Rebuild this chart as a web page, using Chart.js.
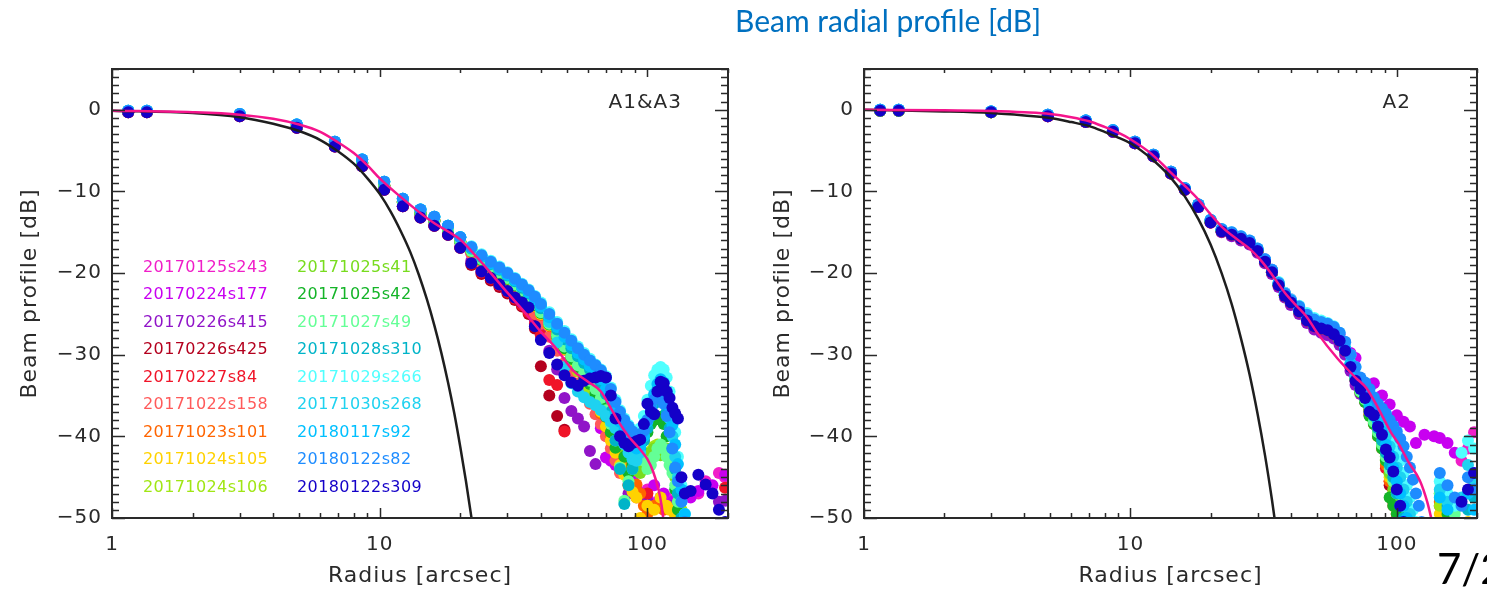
<!DOCTYPE html>
<html>
<head>
<meta charset="utf-8">
<title>Beam radial profile</title>
<script src="https://cdn.jsdelivr.net/npm/chart.js@4.4.0/dist/chart.umd.min.js"></script>
<style>
    body {
        margin: 0;
        width: 1487px;
        height: 590px;
        overflow: hidden;
        position: relative;
        background: #fff;
    }
    canvas { position: absolute; top: 0; }
    #cA { left: 0; }
    #cB { left: 750px; }
    #title {
        position: absolute;
        left: 735px;
        top: 2px;
        font-family: Lato, 'Open Sans', sans-serif;
        font-size: 30px;
        color: #0070c0;
        white-space: nowrap;
    }
    #page {
        position: absolute;
        left: 1437px;
        top: 547px;
        font-family: Lato, 'Open Sans', sans-serif;
        font-size: 42px;
        line-height: 1;
        color: #000;
        white-space: nowrap;
    }
</style>
</head>
<body>
<canvas id="cA" width="745" height="590"></canvas>
<canvas id="cB" width="737" height="590"></canvas>
<div id="title">Beam radial profile [dB]</div>
<div id="page">7/2</div>

<script>
// sampling radii [arcsec], shared by every run
const radii = [1.15, 1.35, 3.0, 4.9, 6.8, 8.6, 10.4, 12.2, 14.2, 16, 18, 20,
    22, 24, 26, 28, 30, 32, 34, 36, 38, 40,
    43, 46, 49, 52, 55, 58, 61, 64, 67, 70,
    73, 76, 79, 82, 85, 88, 91, 94, 97, 100,
    103, 106, 109, 112, 115, 118, 121, 124, 127, 130,
    134, 138, 145, 155, 165, 175, 185, 195];

const runLabels = ['20170125s243', '20170224s177', '20170226s415', '20170226s425', '20170227s84',
    '20171022s158', '20171023s101', '20171024s105', '20171024s106', '20171025s41', '20171025s42',
    '20171027s49', '20171028s310', '20171029s266', '20171030s268', '20180117s92', '20180122s82',
    '20180122s309'];

const runColors = ['#f01ec8', '#c800f0', '#9014c8', '#b4001e', '#f01428', '#ff5a5a', '#ff6400',
    '#ffd200', '#a0e614', '#78dc1e', '#14b428', '#64ff96', '#00b4c8', '#50ffff', '#1ed2f0',
    '#00c0ff', '#1e8cff', '#1400c8'];

// beam profile [dB] per run, one row per run, one value per radius (null = below -50)
const valuesA1A3 = [
    [-0.2,-0.2,-0.6,-2.0,-4.2,-6.5,-9.3,-11.3,-12.7,-13.6,-14.7,-16.2,
     -17.5,-18.5,-19.4,-20.1,-20.8,-21.5,-22.3,-23.1,-24.0,-25.0,
     -26.3,-27.7,-29.0,-30.2,-31.3,-32.4,-33.5,-34.8,-36.2,-37.8,
     -39.5,-41.5,-43.0,-44.5,null,-46.0,null,-47.5,null,-46.5,
     null,null,-48.0,null,null,-47.5,null,null,-49.0,null,
     null,null,null,-47.0,-45.5,null,-44.5,-45.0],
    [-0.2,-0.2,-0.6,-2.0,-4.2,-6.5,-9.3,-11.3,-12.7,-13.6,-14.7,-16.2,
     -17.6,-18.6,-19.5,-20.2,-20.9,-21.6,-22.4,-23.2,-24.1,-25.1,
     -26.4,-27.8,-29.1,-30.4,-31.6,-32.8,-34.0,-36.0,-39.0,-42.6,
     -43.0,-43.5,-44.0,-44.2,-45.9,-45.0,-46.5,-47.0,null,-47.5,
     null,-46.0,null,null,-47.0,null,null,-48.0,null,null,
     null,null,-47.5,-46.7,null,-46.0,null,-44.7],
    [-0.3,-0.3,-0.8,-2.2,-4.5,-6.9,-9.8,-11.8,-13.2,-14.2,-15.3,-16.9,
     -18.5,-19.6,-20.5,-21.3,-22.1,-22.9,-23.7,-24.6,-25.8,-27.5,
     -29.5,-31.8,-35.3,-36.9,-37.8,-38.8,-41.8,-43.4,null,null,
     null,null,null,null,-47.0,null,null,null,null,-48.0,
     null,null,null,-47.5,null,null,null,-48.5,null,null,
     null,null,null,null,null,null,-48.0,-47.9],
    [-0.3,-0.3,-0.8,-2.2,-4.5,-6.9,-9.8,-11.8,-13.2,-14.2,-15.3,-16.9,
     -19.0,-20.1,-20.9,-21.7,-22.5,-23.3,-24.1,-25.0,-26.8,-31.4,
     -35.0,-37.5,-39.2,null,null,null,null,null,null,null,
     null,null,null,null,null,null,null,null,null,null,
     null,null,null,null,null,null,null,null,null,null,
     null,null,null,null,null,null,null,null],
    [-0.3,-0.3,-0.8,-2.2,-4.5,-6.9,-9.8,-11.8,-13.2,-14.2,-15.3,-16.9,
     -18.8,-19.9,-20.7,-21.5,-22.3,-23.1,-23.9,-24.8,-26.2,-27.6,
     -33.1,-33.7,-39.4,null,null,null,null,null,null,null,
     null,null,null,null,null,null,null,null,null,-47.0,
     null,null,null,null,null,null,null,null,-49.5,null,
     null,null,null,null,null,null,null,-46.3],
    [-0.2,-0.2,-0.6,-2.0,-4.2,-6.5,-9.3,-11.3,-12.7,-13.6,-14.7,-16.2,
     -17.6,-18.8,-19.8,-20.6,-21.4,-22.2,-23.0,-23.9,-25.0,-26.2,
     -27.8,-29.5,-31.0,-32.3,-33.5,-34.8,-36.0,-37.3,-38.5,-40.0,
     -41.5,-43.0,-44.5,null,-46.0,null,-47.5,null,null,-48.5,
     null,null,null,null,null,null,null,null,null,null,
     null,null,null,null,null,null,null,null],
    [-0.2,-0.2,-0.6,-2.0,-4.2,-6.5,-9.3,-11.3,-12.7,-13.6,-14.7,-16.2,
     -17.4,-18.4,-19.3,-20.1,-20.8,-21.6,-22.4,-23.2,-24.1,-25.1,
     -26.5,-28.0,-29.4,-30.8,-32.0,-33.2,-34.5,-35.8,-37.2,-38.8,
     -40.0,-41.2,-42.0,-42.8,-43.4,-43.9,-45.9,-47.0,-48.5,-49.5,
     null,-48.5,null,null,-49.0,null,null,null,-49.5,-48.5,
     -49.5,null,null,null,null,null,null,null],
    [-0.2,-0.2,-0.6,-2.0,-4.2,-6.5,-9.3,-11.3,-12.7,-13.6,-14.7,-16.2,
     -17.3,-18.3,-19.2,-20.0,-20.7,-21.5,-22.3,-23.1,-24.0,-25.0,
     -26.4,-27.9,-29.3,-30.7,-32.0,-33.2,-34.4,-35.6,-37.0,-38.8,
     -40.5,-42.0,-43.5,-44.7,-46.0,-46.8,-47.5,-50.0,null,-48.5,
     null,-49.0,null,-47.5,null,-48.5,-49.0,null,-50.0,null,
     null,null,null,null,null,null,null,null],
    [-0.2,-0.2,-0.6,-2.0,-4.2,-6.5,-9.3,-11.3,-12.7,-13.6,-14.7,-16.2,
     -17.2,-18.2,-19.1,-19.9,-20.6,-21.3,-22.1,-22.9,-23.7,-24.7,
     -26.1,-27.5,-29.0,-30.5,-32.0,-33.5,-34.5,-35.5,-36.5,-37.5,
     -38.5,-39.5,-40.4,-41.3,-42.0,-42.6,-43.0,-43.2,-43.0,-42.5,
     -41.8,-41.2,-41.0,-41.3,-41.8,-42.3,-42.0,-42.5,-44.0,-46.5,
     -49.0,null,null,null,null,null,null,null],
    [-0.2,-0.2,-0.6,-2.0,-4.2,-6.5,-9.3,-11.3,-12.7,-13.6,-14.7,-16.2,
     -17.2,-18.2,-19.1,-19.8,-20.5,-21.2,-22.0,-22.8,-23.6,-24.6,
     -26.0,-27.4,-28.8,-30.0,-31.2,-32.3,-33.4,-34.4,-35.4,-36.6,
     -37.8,-39.0,-40.2,-41.4,-42.5,-43.5,-44.2,-44.5,-43.5,-42.5,
     -42.0,-41.5,-41.8,-42.3,-42.0,-41.5,-42.5,-43.5,-45.0,-47.0,
     -49.5,null,null,null,null,null,null,null],
    [-0.2,-0.2,-0.6,-2.0,-4.2,-6.5,-9.3,-11.3,-12.7,-13.6,-14.7,-16.2,
     -17.3,-18.4,-19.3,-20.0,-20.7,-21.5,-22.2,-23.0,-23.9,-24.9,
     -26.3,-27.8,-29.2,-30.5,-31.6,-32.6,-33.6,-34.8,-36.0,-37.6,
     -39.5,-41.4,-40.5,-42.5,-44.5,-43.5,-42.5,-41.5,-40.5,-39.5,
     -38.5,-38.0,-37.6,-37.6,-38.5,-40.0,-42.0,-44.0,-46.5,-49.0,
     null,null,null,null,null,null,null,null],
    [-0.2,-0.2,-0.6,-2.0,-4.2,-6.5,-9.3,-11.3,-12.7,-13.6,-14.7,-16.2,
     -17.3,-18.3,-19.2,-19.9,-20.6,-21.4,-22.1,-22.9,-23.8,-24.8,
     -26.2,-27.6,-29.0,-30.2,-31.3,-32.3,-33.2,-34.2,-35.3,-36.8,
     -38.5,-40.5,-43.8,-47.9,-45.5,-44.0,-43.0,-42.5,-43.0,-44.0,
     -43.5,-42.5,-41.5,-41.0,-41.5,-42.5,-43.5,-44.5,-46.0,-48.0,
     -50.5,null,null,null,null,null,null,null],
    [-0.1,-0.1,-0.5,-1.8,-3.9,-6.1,-8.8,-10.9,-12.2,-13.1,-14.2,-15.6,
     -17.0,-18.0,-18.9,-19.6,-20.3,-21.0,-21.8,-22.5,-23.4,-24.3,
     -25.6,-26.9,-28.1,-29.2,-30.2,-31.0,-31.8,-32.6,-33.4,-34.8,
     -37.0,-40.5,-44.0,-48.3,-46.0,-44.0,-42.5,-41.5,-40.5,-39.0,
     -37.5,-36.0,-35.0,-34.8,-35.5,-37.0,-39.0,-41.5,-44.0,-47.0,
     -50.0,null,null,null,null,null,null,null],
    [-0.1,-0.1,-0.5,-1.8,-3.9,-6.1,-8.8,-10.9,-12.2,-13.1,-14.2,-15.6,
     -16.7,-17.7,-18.5,-19.2,-19.9,-20.6,-21.3,-22.0,-22.8,-23.6,
     -24.8,-26.0,-27.1,-28.1,-29.0,-29.8,-30.5,-31.2,-31.8,-32.6,
     -34.0,-35.5,-36.8,-37.8,-38.6,-39.2,-39.5,-39.0,-37.5,-35.5,
     -33.8,-32.5,-31.8,-31.5,-31.8,-32.8,-34.5,-36.8,-39.5,-42.5,
     -46.0,-49.5,null,null,null,null,null,null],
    [-0.1,-0.1,-0.5,-1.8,-3.9,-6.1,-8.8,-10.9,-12.2,-13.1,-14.2,-15.6,
     -16.9,-17.9,-18.7,-19.4,-20.1,-20.8,-21.6,-22.3,-23.1,-24.0,
     -26.0,-28.5,-31.5,-33.5,-34.5,-35.2,-35.8,-36.2,-36.8,-37.5,
     -38.2,-39.0,-40.0,-41.0,-42.0,-42.8,-43.0,-42.0,-40.0,-38.0,
     -36.5,-35.0,-34.2,-34.0,-34.5,-35.8,-37.8,-40.0,-42.5,-45.0,
     -48.0,-51.0,null,null,null,null,null,null],
    [-0.1,-0.1,-0.5,-1.8,-3.9,-6.1,-8.8,-10.9,-12.2,-13.1,-14.2,-15.6,
     -16.9,-17.9,-18.8,-19.5,-20.2,-20.9,-21.6,-22.4,-23.2,-24.1,
     -25.4,-26.6,-27.8,-28.8,-29.8,-30.6,-31.4,-32.2,-33.0,-34.2,
     -35.5,-37.0,-38.2,-39.3,-40.2,-41.0,-41.5,-41.2,-40.0,-38.2,
     -36.3,-34.8,-33.6,-33.0,-33.4,-34.6,-36.4,-38.6,-41.0,-43.4,
     -46.5,-49.5,null,null,null,null,null,null],
    [-0.1,-0.1,-0.5,-1.8,-3.9,-6.1,-8.8,-10.9,-12.2,-13.1,-14.2,-15.6,
     -16.8,-17.8,-18.6,-19.3,-20.0,-20.7,-21.4,-22.1,-22.9,-23.8,
     -25.0,-26.2,-27.3,-28.3,-29.2,-30.0,-30.7,-31.3,-31.9,-32.8,
     -34.2,-35.8,-37.0,-38.0,-38.8,-39.4,-39.8,-40.0,-39.3,-38.0,
     -36.5,-35.5,-35.0,-35.2,-36.0,-37.5,-39.5,-41.5,-43.8,-45.5,
     -48.0,-50.5,null,null,null,null,null,null],
    [-0.3,-0.3,-0.8,-2.2,-4.5,-6.9,-9.8,-11.8,-13.2,-14.2,-15.3,-16.9,
     -18.8,-19.8,-20.6,-21.4,-22.2,-23.0,-23.6,-24.2,-26.5,-28.2,
     -29.8,-31.2,-32.5,-33.4,-33.8,-33.2,-32.9,-32.8,-32.6,-32.8,
     -35.0,-37.8,-40.0,-40.8,-41.2,-40.8,-40.6,-40.4,-38.5,-36.0,
     -37.0,-37.3,-34.5,-33.3,-33.5,-34.5,-35.3,-36.5,-37.2,-37.8,
     -45.0,-47.0,-46.7,-44.7,-45.9,-47.0,-49.0,-50.5]
];

const valuesA2 = [
    [-0.1,-0.1,-0.3,-0.8,-1.5,-2.7,-4.1,-5.7,-7.8,-9.8,-11.9,-13.8,
     -14.9,-15.3,-15.8,-16.3,-17.3,-18.6,-19.9,-21.5,-22.8,-23.6,
     -24.7,-25.8,-26.5,-26.8,-27.0,-27.5,-28.3,-29.6,-31.5,-33.2,
     -34.3,-35.4,-36.8,-37.6,-38.8,-40.0,-41.5,-43.0,-44.5,-46.0,
     -47.5,-49.0,null,null,null,null,null,null,null,null,
     null,null,null,null,null,-43.0,-41.5,-39.5],
    [0.0,0.0,-0.2,-0.6,-1.3,-2.5,-3.9,-5.5,-7.6,-9.6,-11.6,-13.5,
     -14.7,-15.1,-15.6,-16.1,-17.1,-18.3,-19.6,-21.2,-22.4,-23.2,
     -24.2,-25.1,-25.7,-26.0,-26.3,-26.8,-27.5,-28.5,-29.8,-30.4,
     null,null,null,-33.5,null,-35.0,null,-36.1,null,-37.4,
     null,-38.2,null,-38.8,null,-40.8,null,null,-39.8,null,
     null,-40.0,-40.2,-40.8,-42.0,null,null,null],
    [-0.1,-0.1,-0.3,-0.8,-1.5,-2.7,-4.1,-5.7,-7.8,-9.8,-11.9,-13.8,
     -15.0,-15.5,-16.0,-16.5,-17.5,-18.8,-20.1,-21.7,-23.0,-23.9,
     -25.0,-26.1,-26.9,-27.3,-27.6,-28.0,-28.8,-30.0,-32.0,-33.7,
     -34.8,-35.8,-37.4,-38.0,-39.4,-40.4,-42.0,-43.4,-45.0,-46.8,
     -48.5,null,null,null,null,null,null,null,null,null,
     null,null,null,null,null,null,null,null],
    [-0.1,-0.1,-0.3,-0.8,-1.5,-2.7,-4.1,-5.7,-7.8,-9.8,-11.9,-13.8,
     -14.9,-15.3,-15.8,-16.3,-17.3,-18.6,-19.9,-21.5,-22.8,-23.6,
     -24.7,-25.8,-26.5,-26.8,-27.0,-27.5,-28.3,-29.5,-31.4,-33.1,
     -34.2,-35.3,-36.8,-37.5,-38.8,-40.0,-42.0,-46.0,-48.0,-49.5,
     null,null,null,null,null,null,null,null,null,null,
     null,null,null,null,null,null,null,null],
    [-0.1,-0.1,-0.3,-0.8,-1.5,-2.7,-4.1,-5.7,-7.8,-9.8,-11.9,-13.8,
     -14.9,-15.3,-15.8,-16.3,-17.3,-18.6,-19.9,-21.5,-22.8,-23.6,
     -24.7,-25.8,-26.5,-26.8,-27.0,-27.5,-28.3,-29.5,-31.4,-33.1,
     -34.1,-35.2,-36.7,-37.4,-38.7,-40.0,-43.9,-45.5,-47.5,-49.0,
     null,-50.0,null,null,null,null,null,null,null,null,
     null,null,-48.5,null,null,null,null,null],
    [-0.1,-0.1,-0.3,-0.8,-1.5,-2.7,-4.1,-5.7,-7.8,-9.8,-11.9,-13.8,
     -14.9,-15.3,-15.8,-16.3,-17.3,-18.6,-19.9,-21.5,-22.8,-23.6,
     -24.7,-25.8,-26.5,-26.8,-27.0,-27.5,-28.3,-29.5,-31.4,-33.1,
     -34.3,-35.4,-37.0,-37.8,-39.2,-40.8,-42.5,-44.5,-48.5,-49.5,
     null,null,null,null,null,null,null,null,null,null,
     null,null,null,null,null,null,null,null],
    [-0.1,-0.1,-0.3,-0.7,-1.4,-2.6,-4.0,-5.6,-7.7,-9.7,-11.8,-13.7,
     -14.8,-15.2,-15.7,-16.2,-17.2,-18.5,-19.8,-21.4,-22.7,-23.5,
     -24.6,-25.7,-26.4,-26.7,-26.9,-27.4,-28.2,-29.4,-31.3,-33.0,
     -34.6,-35.7,-37.3,-38.5,-40.0,-41.5,-43.5,-45.5,-47.5,-49.5,
     null,null,null,null,null,null,null,null,null,null,
     null,null,-48.0,-47.5,null,null,null,null],
    [-0.1,-0.1,-0.3,-0.7,-1.4,-2.6,-4.0,-5.6,-7.7,-9.7,-11.8,-13.7,
     -14.8,-15.2,-15.7,-16.2,-17.2,-18.5,-19.8,-21.4,-22.7,-23.5,
     -24.6,-25.7,-26.4,-26.7,-26.9,-27.4,-28.2,-29.4,-31.3,-33.0,
     -34.5,-35.6,-37.2,-38.3,-39.8,-41.2,-43.0,-45.0,-47.0,-49.0,
     null,null,null,null,null,null,null,null,null,null,
     null,null,-49.5,-50.0,null,null,-50.5,null],
    [-0.1,-0.1,-0.3,-0.7,-1.4,-2.6,-4.0,-5.6,-7.7,-9.7,-11.8,-13.7,
     -14.8,-15.2,-15.7,-16.2,-17.2,-18.5,-19.8,-21.4,-22.7,-23.5,
     -24.6,-25.7,-26.4,-26.7,-26.9,-27.4,-28.2,-29.4,-31.3,-33.0,
     -34.4,-35.4,-36.9,-38.0,-39.6,-41.0,-42.8,-44.6,-47.0,-46.0,
     -48.0,-49.5,null,null,null,null,null,null,null,null,
     null,null,-48.5,-49.0,null,null,null,null],
    [-0.1,-0.1,-0.3,-0.7,-1.4,-2.6,-4.0,-5.6,-7.7,-9.7,-11.8,-13.7,
     -14.8,-15.2,-15.7,-16.2,-17.2,-18.5,-19.8,-21.4,-22.7,-23.5,
     -24.6,-25.7,-26.4,-26.7,-26.9,-27.4,-28.2,-29.4,-31.3,-33.0,
     -34.4,-35.4,-36.8,-38.0,-39.5,-41.0,-42.5,-44.5,-46.5,-48.0,
     -49.0,null,null,null,null,null,null,null,null,null,
     null,null,-47.0,null,-49.0,null,null,null],
    [-0.1,-0.1,-0.3,-0.7,-1.4,-2.6,-4.0,-5.6,-7.7,-9.7,-11.8,-13.7,
     -14.8,-15.2,-15.7,-16.2,-17.2,-18.5,-19.8,-21.4,-22.7,-23.5,
     -24.6,-25.7,-26.4,-26.7,-26.9,-27.4,-28.2,-29.4,-31.3,-33.0,
     -34.6,-35.8,-37.5,-38.5,-40.0,-41.5,-43.0,-47.5,-48.5,-49.5,
     null,null,null,null,null,null,null,null,null,null,
     null,null,null,-49.5,null,null,null,null],
    [-0.1,-0.1,-0.3,-0.7,-1.4,-2.6,-4.0,-5.6,-7.7,-9.7,-11.8,-13.7,
     -14.8,-15.2,-15.7,-16.2,-17.2,-18.5,-19.8,-21.4,-22.7,-23.5,
     -24.6,-25.7,-26.4,-26.7,-26.9,-27.4,-28.2,-29.4,-31.3,-33.0,
     -34.5,-35.5,-37.0,-38.2,-39.5,-41.0,-42.5,-44.0,-45.5,-47.0,
     -46.5,-48.0,-49.0,null,null,null,null,null,null,null,
     null,null,-47.0,null,-49.5,null,null,null],
    [0.0,0.0,-0.2,-0.6,-1.3,-2.5,-3.9,-5.5,-7.6,-9.6,-11.6,-13.5,
     -14.7,-15.1,-15.6,-16.1,-17.1,-18.4,-19.7,-21.3,-22.6,-23.4,
     -24.5,-25.6,-26.3,-26.6,-26.8,-27.3,-28.1,-29.3,-31.2,-32.8,
     -34.0,-35.0,-36.5,-37.5,-39.0,-40.5,-42.0,-43.5,-45.0,-47.0,
     -48.5,-50.0,null,null,null,null,null,null,null,null,
     null,null,null,-48.5,null,null,-49.0,-47.5],
    [0.0,0.0,-0.2,-0.6,-1.3,-2.5,-3.9,-5.5,-7.6,-9.6,-11.6,-13.5,
     -14.6,-15.0,-15.5,-16.0,-17.0,-18.3,-19.6,-21.1,-22.4,-23.2,
     -24.0,-24.9,-25.5,-25.8,-26.1,-26.5,-27.3,-28.5,-30.0,-31.5,
     -33.0,-33.8,-34.8,-35.8,-36.8,-37.8,-38.8,-39.8,-40.8,-41.8,
     -43.0,-44.5,-46.0,-47.5,-49.0,-50.5,null,null,null,null,
     null,null,-45.5,-47.0,-48.5,-42.0,-40.5,-41.5],
    [0.0,0.0,-0.2,-0.6,-1.3,-2.5,-3.9,-5.5,-7.6,-9.6,-11.6,-13.5,
     -14.7,-15.1,-15.6,-16.1,-17.1,-18.4,-19.7,-21.3,-22.6,-23.4,
     -24.4,-25.5,-26.2,-26.6,-26.8,-27.2,-28.0,-29.2,-31.0,-32.5,
     -33.6,-34.6,-35.8,-36.8,-37.8,-38.8,-40.0,-41.2,-42.5,-43.8,
     -45.0,-46.5,-48.0,-49.5,null,null,null,null,null,null,
     null,null,-46.5,-48.0,null,-47.5,-43.5,-45.5],
    [0.0,0.0,-0.2,-0.6,-1.3,-2.5,-3.9,-5.5,-7.6,-9.6,-11.6,-13.5,
     -14.7,-15.1,-15.6,-16.1,-17.1,-18.4,-19.7,-21.3,-22.6,-23.4,
     -24.5,-25.6,-26.3,-26.6,-26.8,-27.3,-28.1,-29.3,-31.2,-32.8,
     -33.8,-34.8,-36.2,-37.0,-38.3,-39.4,-41.0,-42.2,-43.8,-45.5,
     -47.0,-48.5,-50.0,null,null,null,null,null,null,null,
     null,null,-47.5,-49.0,null,null,-47.0,-49.0],
    [0.0,0.0,-0.2,-0.6,-1.3,-2.5,-3.9,-5.5,-7.6,-9.6,-11.6,-13.5,
     -14.6,-15.0,-15.5,-16.0,-17.0,-18.3,-19.6,-21.2,-22.5,-23.3,
     -24.1,-25.1,-25.7,-26.0,-26.2,-26.6,-27.3,-28.4,-30.0,-31.5,
     -32.8,-33.4,-34.2,-35.2,-36.0,-36.6,-37.2,-38.0,-38.7,-39.4,
     -40.3,-41.2,-42.5,-43.8,-45.3,-47.0,-48.5,-50.5,null,null,
     null,null,-44.5,-46.0,-47.5,-48.5,-45.0,-46.5],
    [-0.1,-0.1,-0.3,-0.8,-1.5,-2.7,-4.1,-5.7,-7.8,-9.8,-11.9,-13.8,
     -14.9,-15.3,-15.8,-16.3,-17.3,-18.6,-19.9,-21.5,-22.8,-23.6,
     -24.7,-25.8,-26.5,-26.8,-27.0,-27.5,-28.3,-29.5,-31.5,-33.2,
     -34.2,-35.3,-37.0,-37.4,-38.8,-39.8,-41.6,-42.6,-44.3,-46.5,
     -48.5,-50.5,null,null,null,null,null,null,null,null,
     null,null,null,null,null,-48.0,-46.5,-44.5]
];

// fitted profile (magenta) and main-lobe gaussian (black)
const fitA1A3R = [1,2,3,4,5,6,7,8,9,10,12,14,16,18,20,23,26,30,35,40,45,53,60,67,72,78,85,95,100,105,110,113,116];
const fitA1A3 = [-0.1,-0.3,-0.6,-1.1,-1.8,-2.7,-4.0,-5.3,-6.8,-8.4,-10.7,-12.5,-13.9,-14.9,-15.9,-18.0,-20.0,-22.4,-24.9,-27.2,-29.0,-32.0,-33.3,-34.5,-36.2,-38.2,-40.0,-41.8,-42.8,-44.3,-46.5,-48.5,-51.5];
const lobeA1A3R = [1,2,3,4,5,6,7,8,9,10,11,12,13,14,15,16,17,18,19,20,21,22,23];
const lobeA1A3 = [-0.1,-0.4,-0.9,-1.7,-2.6,-3.7,-5.1,-6.6,-8.4,-10.3,-12.5,-14.9,-17.4,-20.2,-23.2,-26.4,-29.8,-33.4,-37.2,-41.3,-45.5,-49.9,-54.5];

const fitA2R = [1,2,3,4,5,6,7,8,9,10,12,14,16,18,20,22,25,28,31,34,38,42,46,50,60,70,77,85,95,102,110,122,130,138];
const fitA2 = [0,-0.05,-0.15,-0.3,-0.5,-0.9,-1.4,-2.1,-2.8,-3.6,-5.4,-7.5,-9.3,-11.0,-12.8,-14.3,-15.8,-17.0,-18.5,-20.2,-22.4,-24.0,-25.4,-27.2,-30.5,-32.8,-34.1,-36.5,-39.5,-41.0,-43.0,-45.4,-48.0,-51.5];
const lobeA2R = [1,2,3,4,5,6,7,8,9,10,12,14,16,18,20,22,24,26,28,30,32,34,36];
const lobeA2 = [0,-0.2,-0.4,-0.7,-1.0,-1.5,-2.0,-2.7,-3.4,-4.1,-6.0,-8.1,-10.6,-13.4,-16.5,-20.0,-23.8,-28.0,-32.4,-37.2,-42.3,-47.8,-53.6];

// axis ticks
const xMajor = [1, 10, 100];
const xMinor = [2, 3, 4, 5, 6, 7, 8, 9, 20, 30, 40, 50, 60, 70, 80, 90, 200];
const yMajor = [-50, -40, -30, -20, -10, 0];

const FONT = 'DejaVu Sans';
const INK = '#2a2a2a';

// IDL style box with inward ticks on all four sides
const frameTicks = {
    id: 'frameTicks',
    beforeDraw(chart) {
        chart.ctx.letterSpacing = '1px';
    },
    afterDraw(chart) {
        const {ctx, chartArea: a, scales: {x, y}} = chart;
        ctx.save();
        ctx.strokeStyle = INK;
        ctx.lineWidth = 1.5;
        ctx.beginPath();
        const xt = (v, lb, lt) => {
            const p = Math.round(x.getPixelForValue(v)) + 0.5;
            ctx.moveTo(p, a.bottom); ctx.lineTo(p, a.bottom - lb);
            ctx.moveTo(p, a.top); ctx.lineTo(p, a.top + lt);
        };
        const yt = (v, l) => {
            const p = Math.round(y.getPixelForValue(v)) + 0.5;
            ctx.moveTo(a.left, p); ctx.lineTo(a.left + l, p);
            ctx.moveTo(a.right, p); ctx.lineTo(a.right - l, p);
        };
        xMajor.forEach(v => xt(v, 10, 8));
        xMinor.forEach(v => xt(v, 5, 4));
        yMajor.forEach(v => yt(v, 13));
        for (let v = -49; v <= 5; v++) {
            if (v % 10 !== 0) yt(v, 7);
        }
        ctx.stroke();
        ctx.lineWidth = 2;
        ctx.strokeRect(a.left, a.top, a.right - a.left, a.bottom - a.top);
        ctx.restore();
    }
};

// run names written in two coloured columns inside the left panel
const runList = {
    id: 'runList',
    afterDatasetsDraw(chart, args, o) {
        if (!o.show) return;
        const ctx = chart.ctx;
        ctx.save();
        ctx.font = '16px "' + FONT + '"';
        ctx.textBaseline = 'middle';
        ctx.letterSpacing = '0.4px';
        runLabels.forEach((t, i) => {
            ctx.fillStyle = runColors[i];
            ctx.fillText(t, o.x[Math.floor(i / 9)], o.y0 + (i % 9) * o.dy);
        });
        ctx.restore();
    }
};

const cornerLabel = {
    id: 'cornerLabel',
    afterDatasetsDraw(chart, args, o) {
        const ctx = chart.ctx;
        ctx.save();
        ctx.font = '20px "' + FONT + '"';
        ctx.fillStyle = INK;
        ctx.textAlign = 'right';
        ctx.textBaseline = 'middle';
        ctx.letterSpacing = '1px';
        ctx.fillText(o.text, o.x, o.y);
        ctx.restore();
    }
};

function makeChart(id, rows, fitR, fitV, lobeR, lobeV, lay) {
    const dots = rows.map((vals, i) => ({
        type: 'scatter',
        label: runLabels[i],
        data: radii.map((r, k) => ({x: r, y: vals[k]})).filter(p => p.y !== null),
        backgroundColor: runColors[i],
        borderColor: runColors[i],
        pointRadius: 6,
        pointBorderWidth: 0,
        showLine: false,
        order: 100 - i,
        clip: 0
    }));
    const curve = (xs, ys, color, order) => ({
        type: 'scatter',
        data: xs.map((r, k) => ({x: r, y: ys[k]})),
        borderColor: color,
        borderWidth: 2.5,
        pointRadius: 0,
        showLine: true,
        cubicInterpolationMode: 'monotone',
        order: order,
        clip: 0
    });
    return new Chart(document.getElementById(id), {
        type: 'scatter',
        data: {
            datasets: dots.concat([
                curve(fitR, fitV, '#f5148c', 0),
                curve(lobeR, lobeV, '#1e1e1e', 1)
            ])
        },
        options: {
            responsive: false,
            animation: false,
            events: [],
            layout: { padding: { left: 0, top: 69, right: lay.right, bottom: 0 } },
            plugins: {
                legend: { display: false },
                tooltip: { enabled: false },
                runList: lay.list,
                cornerLabel: lay.corner
            },
            scales: {
                x: {
                    type: 'logarithmic',
                    min: 1,
                    max: 200,
                    grid: { display: false, drawTicks: false },
                    border: { display: false },
                    afterBuildTicks: s => { s.ticks = xMajor.map(v => ({value: v})); },
                    afterFit: s => { s.height = 72; },
                    ticks: {
                        autoSkip: false,
                        maxRotation: 0,
                        padding: 15,
                        color: INK,
                        font: { family: FONT, size: 20 },
                        callback: v => String(v)
                    },
                    title: {
                        display: true,
                        text: 'Radius [arcsec]',
                        color: INK,
                        font: { family: FONT, size: 22 },
                        padding: { top: 0, bottom: 1 }
                    }
                },
                y: {
                    type: 'linear',
                    min: -50,
                    max: 5,
                    grid: { display: false, drawTicks: false },
                    border: { display: false },
                    afterBuildTicks: s => { s.ticks = yMajor.map(v => ({value: v})); },
                    afterFit: s => { s.width = lay.axisW; },
                    ticks: {
                        padding: 10,
                        color: INK,
                        font: { family: FONT, size: 20 },
                        callback: v => v < 0 ? '\u2212' + Math.abs(v) : String(v)
                    },
                    title: {
                        display: true,
                        text: 'Beam profile [dB]',
                        color: INK,
                        font: { family: FONT, size: 22 },
                        padding: { top: lay.titlePad, bottom: 0 }
                    }
                }
            }
        },
        plugins: [frameTicks, runList, cornerLabel]
    });
}

makeChart('cA', valuesA1A3, fitA1A3R, fitA1A3, lobeA1A3R, lobeA1A3, {
    right: 17, axisW: 112, titlePad: 17,
    list: { show: true, x: [143, 297], y0: 267.5, dy: 27.5 },
    corner: { text: 'A1&A3', x: 682, y: 103 }
});

makeChart('cB', valuesA2, fitA2R, fitA2, lobeA2R, lobeA2, {
    right: 10, axisW: 114, titlePad: 20,
    list: { show: false },
    corner: { text: 'A2', x: 661, y: 103 }
});
</script>
</body>
</html>
